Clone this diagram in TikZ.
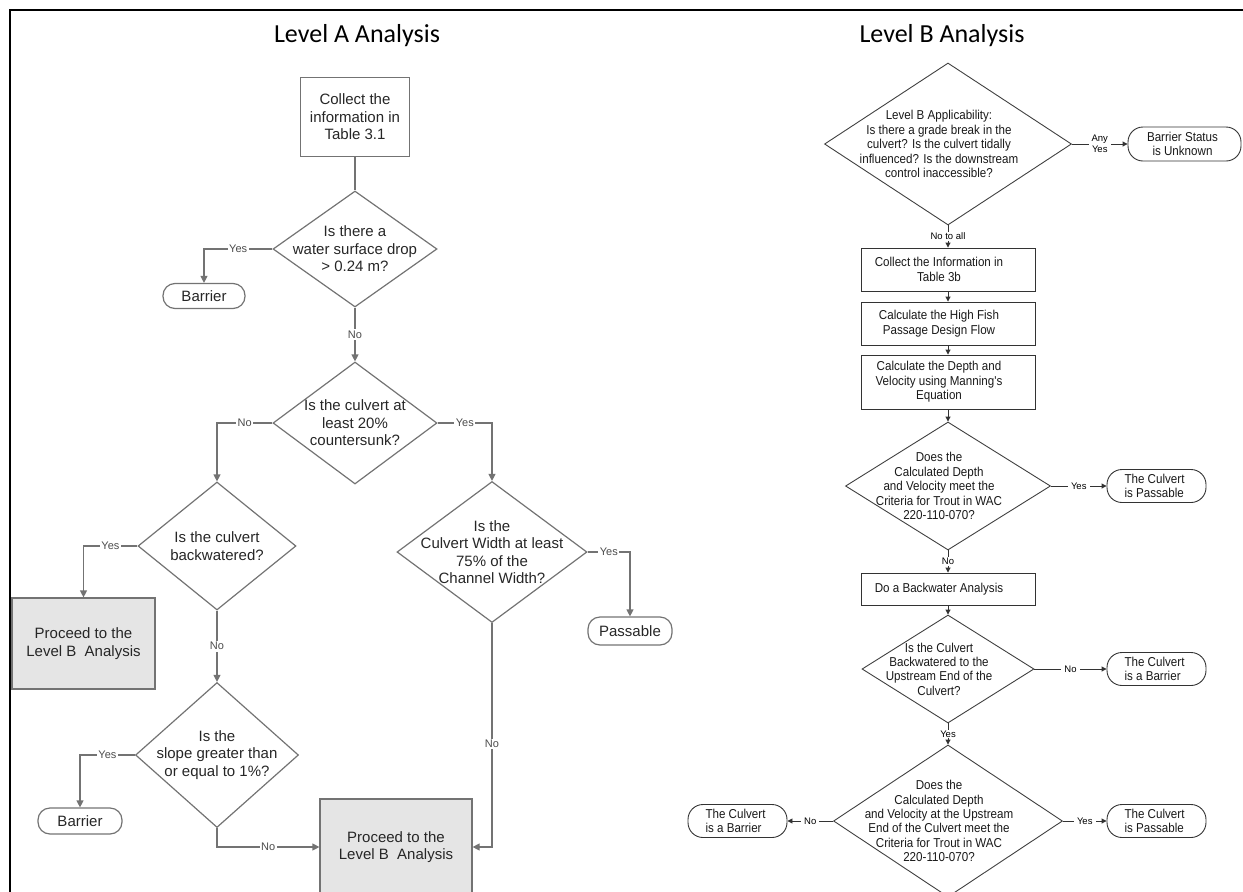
\documentclass[tikz,border=0pt]{standalone}
\usepackage{fontspec}
\setmainfont{Liberation Sans}
\newfontfamily\titlefont{Carlito}
\newfontfamily\narrowfont{Liberation Sans}[FakeStretch=0.9]
\usetikzlibrary{shapes.geometric,arrows.meta}
\definecolor{lineA}{gray}{0.45}
\definecolor{fillA}{gray}{0.9}
\newcommand{\levelAfont}{\fontsize{15}{17.5}\selectfont}
\newcommand{\levelBfont}{\narrowfont\fontsize{12.9}{14.4}\selectfont}
\newcommand{\yesnoA}{\fontsize{11}{13}\selectfont}
\newcommand{\yesnoB}{\fontsize{9.5}{11.5}\selectfont}

\begin{document}
\begin{tikzpicture}[x=1pt,y=-1pt,
  every node/.style={inner sep=0pt},
  head/.style={font=\titlefont\fontsize{26}{30}\selectfont},
  atxt/.style={font=\levelAfont,align=center,text=black!85},
  adec/.style={diamond,draw=lineA,line width=1.2pt},
  abox/.style={rectangle,draw=lineA,line width=1.2pt,atxt},
  agray/.style={abox,fill=fillA},
  apill/.style={abox,rounded corners=12pt},
  alab/.style={font=\yesnoA,text=black!70,fill=white,inner sep=1.5pt},
  aline/.style={draw=lineA,line width=1.2pt},
  aarrow/.style={aline,-{Triangle[length=7pt,width=7pt]}},
  btxt/.style={font=\levelBfont,align=center,text=black!90,xshift=-9pt},
  bdec/.style={diamond,draw=black!75,line width=0.9pt},
  bbox/.style={rectangle,draw=black!80,line width=0.9pt,minimum width=174pt},
  bpill/.style={rectangle,draw=black!80,line width=0.9pt,rounded corners=15pt,
    minimum width=99pt,minimum height=33pt},
  blab/.style={font=\yesnoB,fill=white,align=center,inner xsep=3pt,inner ysep=1pt},
  barrow/.style={draw=black!80,line width=0.9pt,-{Triangle[length=5pt,width=5pt]}}]
  \useasboundingbox (0,0) rectangle (1243,892);
  \draw[line width=2.6pt] (1243,10) -- (10,10) -- (10,892);

  \node[head] (titleA) at (357,36) {Level A Analysis};
  \node[abox,minimum width=109pt,minimum height=79pt] (collA) at (355,117)
    {Collect the\\information in\\Table 3.1};
  \node[adec,minimum width=164pt,minimum height=116pt,
    label={[atxt]center:{Is there a\\water surface drop\\> 0.24 m?}}] (d1) at (355,249) {};
  \node[apill,minimum width=82pt,minimum height=25pt] (bar1) at (204,296) {Barrier};
  \node[adec,minimum width=164pt,minimum height=122pt,
    label={[atxt]center:{Is the culvert at\\least 20\%\\countersunk?}}] (d2) at (355,423) {};
  \node[adec,minimum width=158pt,minimum height=128pt,
    label={[atxt]center:{Is the culvert\\backwatered?}}] (d3) at (217,546) {};
  \node[adec,minimum width=190pt,minimum height=141pt,
    label={[atxt]center:{Is the\\Culvert Width at least\\75\% of the\\Channel Width?}}] (d4) at (492,552) {};
  \node[agray,minimum width=143pt,minimum height=91pt] (proc1) at (83.5,643.5)
    {Proceed to the\\Level B~ Analysis};
  \node[adec,minimum width=163pt,minimum height=145pt,
    label={[atxt]center:{Is the\\slope greater than\\or equal to 1\%?}}] (d5) at (217,755) {};
  \node[apill,minimum width=84pt,minimum height=26pt] (bar2) at (80,821) {Barrier};
  \node[apill,minimum width=84pt,minimum height=28pt] (pass) at (630,631) {Passable};
  \node[agray,minimum width=152pt,minimum height=96pt] (proc2) at (396,847)
    {Proceed to the\\Level B~ Analysis};

  \draw[aline] (collA) -- (d1);
  \draw[aarrow] (d1.west) -| node[alab,pos=0.25] {Yes} (bar1.north);
  \draw[aarrow] (d1.south) -- node[alab] {No} (d2.north);
  \draw[aarrow] (d2.west) -| node[alab,pos=0.25] {No} (d3.north);
  \draw[aarrow] (d2.east) -| node[alab,pos=0.25] {Yes} (d4.north);
  \draw[aarrow] (d3.west) -| node[alab,pos=0.25] {Yes} (proc1.north);
  \draw[aarrow] (d3.south) -- node[alab] {No} (d5.north);
  \draw[aarrow] (d5.west) -| node[alab,pos=0.25] {Yes} (bar2.north);
  \draw[aarrow] (d5.south) |- node[alab,pos=0.75] {No} (proc2.west);
  \draw[aarrow] (d4.east) -| node[alab,pos=0.25] {Yes} (pass.north);
  \draw[aarrow] (d4.south) |- node[alab,pos=0.27] {No} (proc2.east);

  \node[head] (titleB) at (942,36) {Level B Analysis};
  \node[bdec,minimum width=247pt,minimum height=162pt,
    label={[btxt]center:{Level B Applicability:\\Is there a grade break in the\\culvert? Is the culvert tidally\\influenced? Is the downstream\\control inaccessible?}}]
    (bd1) at (948,144) {};
  \node[bpill,minimum width=113pt,minimum height=34pt,
    label={[btxt,xshift=7pt]center:{Barrier Status\\is Unknown}}] (unk) at (1184.5,144) {};
  \node[bbox,minimum height=43pt,
    label={[btxt]center:{Collect the Information in\\Table 3b}}] (coll) at (948,269.5) {};
  \node[bbox,minimum height=43pt,
    label={[btxt]center:{Calculate the High Fish\\Passage Design Flow}}] (flow) at (948,323.5) {};
  \node[bbox,minimum height=54pt,
    label={[btxt]center:{Calculate the Depth and\\Velocity using Manning's\\Equation}}] (depth) at (948,382) {};
  \node[bdec,minimum width=205pt,minimum height=128pt,
    label={[btxt]center:{Does the\\Calculated Depth\\and Velocity meet the\\Criteria for Trout in WAC\\220-110-070?}}]
    (bd2) at (948,486) {};
  \node[bpill,label={[btxt,align=left,xshift=7pt]center:{The Culvert\\is Passable}}] (pass1) at (1156.5,486) {};
  \node[bbox,minimum height=32pt,
    label={[btxt]center:{Do a Backwater Analysis}}] (back) at (948,589) {};
  \node[bdec,minimum width=172pt,minimum height=108pt,
    label={[btxt]center:{Is the Culvert\\Backwatered to the\\Upstream End of the\\Culvert?}}]
    (bd3) at (948,669) {};
  \node[bpill,label={[btxt,align=left,xshift=7pt]center:{The Culvert\\is a Barrier}}] (barB1) at (1156.5,669) {};
  \node[bdec,minimum width=229pt,minimum height=152pt,
    label={[btxt]center:{Does the\\Calculated Depth\\and Velocity at the Upstream\\End of the Culvert meet the\\Criteria for Trout in WAC\\220-110-070?}}]
    (bd4) at (948,821) {};
  \node[bpill,label={[btxt,align=left,xshift=7pt]center:{The Culvert\\is Passable}}] (pass2) at (1156.5,821) {};
  \node[bpill,label={[btxt,align=left,xshift=7pt]center:{The Culvert\\is a Barrier}}] (barB2) at (737.5,821) {};

  \draw[barrow] (bd1.south) -- node[blab] {No to all} (coll.north);
  \draw[barrow] (bd1.east) -- node[blab] {Any\\Yes} (unk.west);
  \draw[barrow] (coll) -- (flow);
  \draw[barrow] (flow) -- (depth);
  \draw[barrow] (depth) -- (bd2);
  \draw[barrow] (bd2.east) -- node[blab] {Yes} (pass1.west);
  \draw[barrow] (bd2.south) -- node[blab] {No} (back.north);
  \draw[barrow] (back) -- (bd3);
  \draw[barrow] (bd3.east) -- node[blab] {No} (barB1.west);
  \draw[barrow] (bd3.south) -- node[blab] {Yes} (bd4.north);
  \draw[barrow] (bd4.east) -- node[blab] {Yes} (pass2.west);
  \draw[barrow] (bd4.west) -- node[blab] {No} (barB2.east);
\end{tikzpicture}
\end{document}
